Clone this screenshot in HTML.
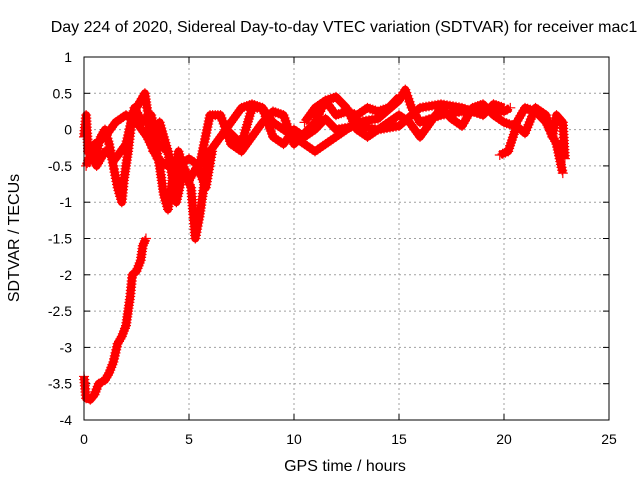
<!DOCTYPE html>
<html><head><meta charset="utf-8"><style>
body{margin:0;background:#fff}
svg{display:block;font-family:"Liberation Sans",sans-serif;font-size:14px}
</style></head><body>
<svg id="c" width="640" height="480">
<text x="344" y="32" text-anchor="middle" font-size="16">Day 224 of 2020, Sidereal Day-to-day VTEC variation (SDTVAR) for receiver mac1</text>
<text x="345" y="471" text-anchor="middle" font-size="16">GPS time / hours</text>
<text transform="translate(19,238) rotate(-90)" text-anchor="middle" font-size="16">SDTVAR / TECUs</text>
<g id="grid"></g><g id="ticks"></g><g id="data"></g>
<rect x="84" y="57" width="525" height="363" fill="none" stroke="#000" stroke-width="1"/>
</svg>
<script>
const xTicks=[0,5,10,15,20,25];
const yTicks=[1,0.5,0,-0.5,-1,-1.5,-2,-2.5,-3,-3.5,-4];
const trackA=[[0,-3.4],[0.1,-3.7],[0.3,-3.72],[0.5,-3.65],[0.7,-3.5],[1.0,-3.45],[1.2,-3.35],[1.4,-3.2],[1.6,-2.95],[1.8,-2.85],[2.0,-2.7],[2.2,-2.3],[2.3,-2.0],[2.5,-1.95],[2.7,-1.8],[2.8,-1.6],[2.95,-1.5]];
const trackB=[[0,-0.1],[0.1,0.2],[0.2,-0.3],[0.4,-0.4],[0.6,-0.3],[0.8,-0.1],[1.0,0.0],[1.2,-0.2],[1.4,-0.5],[1.6,-0.8],[1.8,-1.0],[1.9,-0.7],[2.1,-0.3],[2.3,0.2],[2.6,0.35],[2.9,0.5],[3.0,0.3],[3.2,0.0],[3.4,-0.2],[3.6,-0.5],[3.8,-0.9],[4.0,-1.1],[4.2,-0.7],[4.5,-0.3],[4.8,-0.6],[5.1,-0.8],[5.3,-1.5],[5.5,-1.2],[5.8,-0.6],[6.0,-0.3],[6.5,-0.1],[7.0,0.1],[7.5,0.3],[8.0,0.35],[8.5,0.3],[9.0,0.1],[9.5,0.0],[10,-0.1],[10.5,-0.2],[11,-0.3],[11.5,-0.2],[12,-0.1],[12.5,0.0],[13,0.1],[14,0.15],[15,0.4],[15.3,0.55],[15.6,0.3],[16,0.1],[17,0.2],[18,0.25],[19,0.3],[20,0.25],[20.3,0.3]];
const trackC=[[0.1,-0.5],[0.5,-0.2],[1.0,-0.1],[1.5,0.1],[2.0,0.2],[2.5,0.1],[3.0,-0.1],[3.5,-0.4],[4.0,-0.5],[4.5,-0.5],[5.0,-0.4],[5.5,-0.5],[6.0,0.2],[6.5,0.2],[7.0,-0.2],[7.5,-0.3],[8.0,-0.1],[8.5,0.1],[9,0.25],[9.5,0.2],[10,-0.2],[11,0.1],[11.5,0.4],[12,0.45],[12.5,0.3],[13,0.0],[13.5,-0.1],[14,0.0],[14.5,0.1],[15,0.2],[15.5,0.1],[16,-0.1],[16.5,0.1],[17,0.3],[17.5,0.15],[18,0.05],[18.5,0.3],[19,0.35],[19.5,0.2],[20,0.1],[20.5,0.05],[21,0.3],[21.5,0.25],[22,0.1],[22.5,-0.2],[22.8,-0.6]];
const trackD=[[19.8,-0.35],[20.2,-0.3],[20.6,0.05],[21,-0.05],[21.5,0.3],[22,0.2],[22.3,-0.1],[22.5,0.2],[22.8,0.1],[22.9,-0.4]];
const trackE=[[6.8,0.0],[7.5,-0.2],[8,0.3],[8.5,0.3],[9,-0.1],[9.5,-0.2],[10,0.0],[10.5,-0.1],[11,0.0],[11.5,0.15],[12,0.0],[13,0.05],[14,0.0],[15,0.05],[16,0.3],[17,0.35],[18,0.3],[19,0.2],[19.5,0.35],[20,0.3]];
const trackF=[[3,0.2],[3.3,-0.3],[3.6,0.1],[4,-0.3],[4.3,-0.7],[4.6,-0.4],[5,-0.7],[5.4,-0.5],[5.8,-0.8],[6.1,-0.3]];
const trackG=[[0.2,-0.3],[0.6,-0.5],[1.0,-0.3],[1.5,-0.4],[2.0,-0.2],[2.4,0.3],[2.8,0.1],[3.2,0.2],[3.5,-0.2],[4.0,-0.3],[4.4,-1.0],[4.7,-0.6]];
const trackH=[[10.5,0.1],[11,0.3],[11.5,0.4],[12,0.2],[12.5,0.25],[13,0.2],[13.5,0.3],[14,0.25],[14.5,0.3],[15,0.45]];
const tracks=[trackA,trackB,trackC,trackD,trackE,trackF,trackG,trackH];
const NS='http://www.w3.org/2000/svg';
const X0=84,X1=609,Y0=420,Y1=57;
function sx(t){return X0+(t-0)/(25-0)*(X1-X0);}
function sy(v){return Y0-(v-(-4))/(1-(-4))*(Y0-Y1);}
function mk(tag,a,p){const e=document.createElementNS(NS,tag);for(const k in a)e.setAttribute(k,a[k]);p.appendChild(e);return e;}
const grid=document.getElementById('grid'),ticks=document.getElementById('ticks'),data=document.getElementById('data');
xTicks.forEach(t=>{const x=sx(t);
 if(t>0&&t<25){const l=mk('line',{x1:x,y1:Y0,x2:x,y2:Y1,stroke:'#a0a0a0','stroke-dasharray':'2,3'},grid);
 
 }
 mk('line',{x1:x,y1:Y0,x2:x,y2:Y0-6,stroke:'#000'},ticks);mk('line',{x1:x,y1:Y1,x2:x,y2:Y1+6,stroke:'#000'},ticks);
 const tx=mk('text',{x:x,y:Y0+24,'text-anchor':'middle'},ticks);tx.textContent=t;
 
 });
yTicks.forEach(v=>{const y=sy(v);
 if(v<1&&v>-4){const l=mk('line',{x1:X0,y1:y,x2:X1,y2:y,stroke:'#a0a0a0','stroke-dasharray':'2,3'},grid);
 
 }
 mk('line',{x1:X0,y1:y,x2:X0+6,y2:y,stroke:'#000'},ticks);mk('line',{x1:X1,y1:y,x2:X1-6,y2:y,stroke:'#000'},ticks);
 const tx=mk('text',{x:X0-12,y:y+5,'text-anchor':'end'},ticks);tx.textContent=v;
 
 });
tracks.forEach((tr,i)=>{
 const g=mk('g',{},data);
 
 
 mk('polyline',{points:tr.map(p=>sx(p[0])+','+sy(p[1])).join(' '),fill:'none',stroke:'#f00','stroke-width':8,'stroke-linejoin':'round'},g);
 let d='';
 for(let k=0;k<tr.length;k++){
  const x=sx(tr[k][0]),y=sy(tr[k][1]);
  d+=`M${x-5},${y}h10M${x},${y-5}v10`;
  if(k<tr.length-1){const x2=sx(tr[k+1][0]),y2=sy(tr[k+1][1]);const n=Math.max(1,Math.round(Math.hypot(x2-x,y2-y)/3));
   for(let j=1;j<n;j++){const px=x+(x2-x)*j/n,py=y+(y2-y)*j/n;d+=`M${px-5},${py}h10M${px},${py-5}v10`;}}
 }
 mk('path',{d:d,stroke:'#f00','stroke-width':1.2,fill:'none'},g);
});
</script>
</body></html>
